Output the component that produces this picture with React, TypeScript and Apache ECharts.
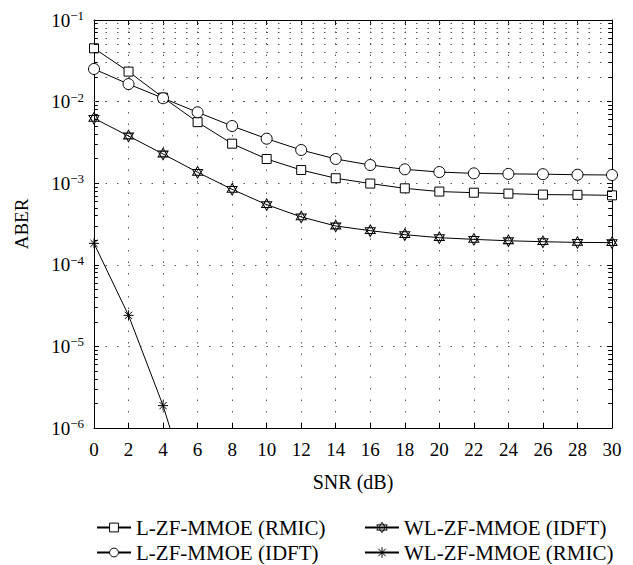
import React, { useEffect, useRef } from "react";
import * as echarts from "echarts";

const snr = [0, 2, 4, 6, 8, 10, 12, 14, 16, 18, 20, 22, 24, 26, 28, 30];
const lzfRmic = [0.045, 0.0233, 0.0112, 0.0056, 0.00305, 0.00198, 0.00145, 0.00115, 0.00099, 0.000865, 0.00079, 0.000765, 0.000745, 0.000725, 0.00072, 0.00071];
const lzfIdft = [0.0251, 0.0164, 0.011, 0.0074, 0.00502, 0.00351, 0.00255, 0.00198, 0.00167, 0.00148, 0.00137, 0.00132, 0.0013, 0.00129, 0.00127, 0.00126];
const wlIdft = [0.00624, 0.00379, 0.00228, 0.00136, 0.00084, 0.000546, 0.000386, 0.000299, 0.000262, 0.000234, 0.000215, 0.000205, 0.000197, 0.000192, 0.000188, 0.000187];
const wlRmic = [1.83e-4, 2.4e-5, 1.88e-6, 8e-8];

const seriesNames = ["L-ZF-MMOE (RMIC)", "L-ZF-MMOE (IDFT)", "WL-ZF-MMOE (IDFT)", "WL-ZF-MMOE (RMIC)"];
const decades = [-6, -5, -4, -3, -2];
const minorMultipliers = [2, 3, 4, 5, 6, 7, 8, 9];

const FONT = "Liberation Serif";
const HEXAGRAM = "path://M0,-10 L8.66,5 L-8.66,5 Z M0,10 L8.66,-5 L-8.66,-5 Z";
const ASTERISK = "path://M0,-1 L0,1 M-1,0 L1,0 M-0.72,-0.72 L0.72,0.72 M-0.72,0.72 L0.72,-0.72";

export default function App() {
  const ref = useRef<HTMLDivElement>(null);
  useEffect(() => {
    if (!ref.current) return;
    const chart = echarts.init(ref.current, null, { renderer: "svg" });

    const minorVals: number[] = [];
    decades.forEach((d) => minorMultipliers.forEach((m) => minorVals.push(m * Math.pow(10, d))));

    const dotted = { type: [1.5, 10] as any, color: "#555", width: 1 };
    const markData: any[] = [];
    minorVals.forEach((v) => {
      markData.push({ yAxis: v, lineStyle: dotted });
    });
    minorVals.forEach((v) => {
      markData.push([
        { coord: [snr[0], v], lineStyle: { type: "solid", color: "#000", width: 1 } },
        { coord: [snr[0] + 0.22, v] },
      ]);
      markData.push([
        { coord: [snr[snr.length - 1] - 0.22, v], lineStyle: { type: "solid", color: "#000", width: 1 } },
        { coord: [snr[snr.length - 1], v] },
      ]);
    });

    const hollow = { color: "#fff", borderColor: "#000", borderWidth: 1 };

    const mk = (name: string, vals: number[], symbol: string, size: any, extra: any = {}) => ({
      name,
      type: "line",
      data: vals.map((v, i) => [snr[i], v]),
      symbol,
      symbolSize: size,
      showAllSymbol: true,
      clip: true,
      lineStyle: { color: "#000", width: 1 },
      itemStyle: hollow,
      emphasis: { disabled: true },
      z: 3,
      ...extra,
    });

    const labelFormatter = (value: number) => {
      const e = Math.round(Math.log10(value));
      return `{b|10}{s|−${-e}}`;
    };

    const legendCommon = {
      orient: "vertical",
      top: 517,
      height: 80,
      itemWidth: 34,
      itemGap: 4,
      padding: 0,
      textStyle: { fontFamily: FONT, fontSize: 21, color: "#000" },
    };

    const option: any = {
      animation: false,
      backgroundColor: "#fff",
      textStyle: { fontFamily: FONT },
      grid: { left: 94, right: 21, top: 20, bottom: 137 },
      legend: [
        {
          ...legendCommon,
          itemHeight: 11,
          data: [
            { name: seriesNames[0], itemStyle: hollow },
            { name: seriesNames[1], itemStyle: hollow },
          ],
          left: 96,
        },
        {
          ...legendCommon,
          itemHeight: 13,
          data: [
            { name: seriesNames[2], itemStyle: hollow },
            { name: seriesNames[3], itemStyle: hollow },
          ],
          left: 364,
        },
      ],
      xAxis: [
        {
          type: "value",
          min: 0,
          max: 30,
          interval: 2,
          axisLine: { show: true, onZero: false, lineStyle: { color: "#000", width: 1 } },
          axisTick: { show: true, inside: true, length: 5, lineStyle: { color: "#000" } },
          axisLabel: { fontSize: 19, color: "#000", margin: 12, fontFamily: FONT },
          splitLine: { show: true, lineStyle: dotted },
          name: "SNR (dB)",
          nameLocation: "middle",
          nameGap: 44,
          nameTextStyle: { fontSize: 20, color: "#000", fontFamily: FONT },
        },
        {
          type: "value",
          position: "top",
          min: 0,
          max: 30,
          interval: 2,
          axisLine: { show: true, onZero: false, lineStyle: { color: "#000", width: 1 } },
          axisTick: { show: true, inside: true, length: 5, lineStyle: { color: "#000" } },
          axisLabel: { show: false },
          splitLine: { show: false },
        },
      ],
      yAxis: [
        {
          type: "log",
          logBase: 10,
          min: 1e-6,
          max: 0.1,
          axisLine: { show: true, onZero: false, lineStyle: { color: "#000", width: 1 } },
          axisTick: { show: true, inside: true, length: 5, lineStyle: { color: "#000" } },
          axisLabel: {
            color: "#000",
            margin: 10,
            formatter: labelFormatter,
            rich: {
              b: { fontSize: 19, fontFamily: FONT, color: "#000", lineHeight: 22 },
              s: { fontSize: 13, fontFamily: FONT, color: "#000", lineHeight: 13, verticalAlign: "top" },
            },
          },
          splitLine: { show: true, lineStyle: dotted },
          name: "ABER",
          nameLocation: "middle",
          nameGap: 63,
          nameRotate: 90,
          nameTextStyle: { fontSize: 19, color: "#000", fontFamily: FONT },
        },
        {
          type: "log",
          logBase: 10,
          min: 1e-6,
          max: 0.1,
          position: "right",
          axisLine: { show: true, onZero: false, lineStyle: { color: "#000", width: 1 } },
          axisTick: { show: true, inside: true, length: 5, lineStyle: { color: "#000" } },
          axisLabel: { show: false },
          splitLine: { show: false },
        },
      ],
      series: [
        mk(seriesNames[0], lzfRmic, "rect", 9, {
          markLine: {
            silent: true,
            symbol: ["none", "none"],
            label: { show: false },
            animation: false,
            emphasis: { disabled: true },
            data: markData,
          },
        }),
        mk(seriesNames[1], lzfIdft, "circle", 11),
        mk(seriesNames[2], wlIdft, HEXAGRAM, [10, 11.5]),
        mk(seriesNames[3], wlRmic, ASTERISK, [10, 10]),
      ],
    };
    chart.setOption(option);
    return () => chart.dispose();
  }, []);
  return (
    <div
      ref={ref}
      style={{ position: "fixed", left: 0, top: 0, width: 633, height: 565, background: "#fff" }}
    />
  );
}
